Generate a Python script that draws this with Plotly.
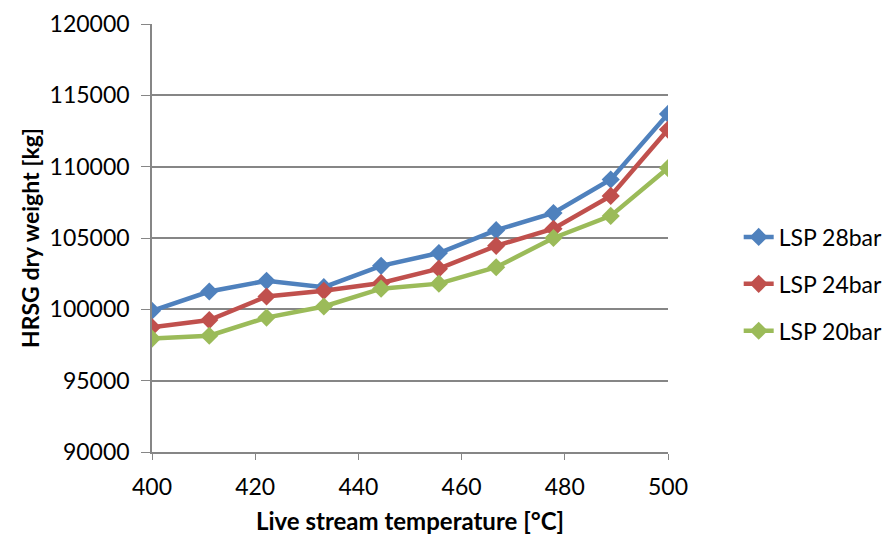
import plotly.graph_objects as go

temps = [400, 411.1, 422.2, 433.3, 444.4, 455.6, 466.7, 477.8, 488.9, 500]
lsp28 = [99900, 101250, 102000, 101550, 103050, 103950, 105550, 106750, 109100, 113700]
lsp24 = [98750, 99250, 100900, 101300, 101850, 102850, 104450, 105650, 107950, 112600]
lsp20 = [97950, 98150, 99420, 100200, 101450, 101800, 102950, 105000, 106550, 109900]
names = ["LSP 28bar", "LSP 24bar", "LSP 20bar"]
colors = ["#4F81BD", "#C0504D", "#9BBB59"]
ytick_vals = [90000, 95000, 100000, 105000, 110000, 115000, 120000]
xtick_vals = [400, 420, 440, 460, 480, 500]

FONT = "Lato"
FS = 23
fig = go.Figure()
for i, (n, ys, c) in enumerate(zip(names, [lsp28, lsp24, lsp20], colors)):
    fig.add_trace(go.Scatter(
        x=temps, y=ys, name=n, mode="lines+markers",
        line=dict(color=c, width=4.5),
        marker=dict(symbol="diamond", size=14, color=c),
        legendgroup=n,
    ))

fig.update_layout(
    width=893, height=540,
    margin=dict(l=152, r=225, t=24, b=88, autoexpand=False),
    paper_bgcolor="white", plot_bgcolor="white",
    font=dict(family=FONT, size=FS, color="black"),
    showlegend=True,
    legend=dict(x=1.137, y=0.3925, xanchor="left", yanchor="middle",
                font=dict(size=FS, family=FONT), tracegroupgap=14,
                bgcolor="rgba(0,0,0,0)"),
    xaxis=dict(range=[400, 500], tickvals=xtick_vals, showgrid=False,
               showline=True, linecolor="#868686", linewidth=1.5,
               ticks="outside", ticklen=6, tickcolor="#868686",
               tickfont=dict(size=FS), zeroline=False, ticklabelstandoff=8,
               title=dict(text="<b>Live stream temperature [°C]</b>",
                          font=dict(size=FS + 1), standoff=14)),
    yaxis=dict(range=[90000, 120000], tickvals=ytick_vals,
               showgrid=True, gridcolor="#868686", gridwidth=1.5,
               showline=True, linecolor="#868686", linewidth=1.5,
               ticks="outside", ticklen=9, tickcolor="#868686",
               tickfont=dict(size=FS), zeroline=False, tickformat="d",
               ticklabelstandoff=7,
               title=dict(text="<b>HRSG dry weight [kg]</b>",
                          font=dict(size=FS), standoff=4)),
)
fig.write_html("out.html")
